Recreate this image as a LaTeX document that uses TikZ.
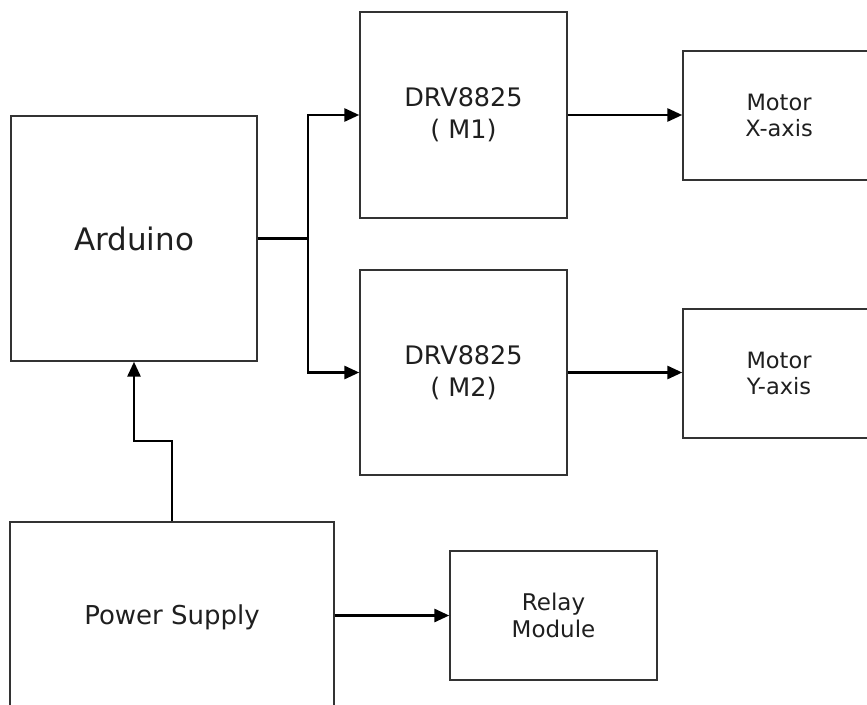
\documentclass[tikz,border=0pt]{standalone}
\usepackage{fontspec}
\setmainfont{DejaVu Sans}
\usetikzlibrary{arrows.meta}
\begin{document}
\begin{tikzpicture}[x=1pt,y=-1pt,
  blk/.style={draw=black!80, line width=1.4pt, rectangle, inner sep=0pt, align=center, text=black!88},
  conn/.style={draw=black, line width=2.8pt, -{Triangle[length=15pt,width=13pt]}},
  plain/.style={draw=black, line width=2.8pt}]
\useasboundingbox (0,0) rectangle (867,704);
\node[blk, minimum width=246pt, minimum height=245pt, font=\fontsize{31}{37}\selectfont] (ard) at (134,238.5) {Arduino};
\node[blk, minimum width=207pt, minimum height=206pt, font=\fontsize{25.5}{32}\selectfont] (drva) at (463.5,115) {DRV8825\\( M1)};
\node[blk, minimum width=207pt, minimum height=205pt, font=\fontsize{25.5}{32}\selectfont] (drvb) at (463.5,372.5) {DRV8825\\( M2)};
\node[blk, minimum width=192pt, minimum height=129pt, font=\fontsize{22.5}{26.5}\selectfont] (mx) at (779,115.5) {Motor\\X-axis};
\node[blk, minimum width=192pt, minimum height=129pt, font=\fontsize{22.5}{26.5}\selectfont] (my) at (779,373.5) {Motor\\Y-axis};
\node[blk, minimum width=324pt, minimum height=190pt, font=\fontsize{26}{31}\selectfont] (ps) at (172,617) {Power Supply};
\node[blk, minimum width=207pt, minimum height=129pt, font=\fontsize{23}{27}\selectfont] (relay) at (553.5,615.5) {Relay\\Module};
\coordinate (j) at (308,238.5);
\coordinate (b) at (134,441);
\draw[plain] (ard.east) -- (j);
\draw[conn] (j) |- (drva.west);
\draw[conn] (j) |- (drvb.west);
\draw[conn] (drva.east) -- (drva.east -| mx.west);
\draw[conn] (drvb.east) -- (drvb.east -| my.west);
\draw[conn] (ps.north) |- (b) -- (b |- ard.south);
\draw[conn] (ps.east |- relay.west) -- (relay.west);
\end{tikzpicture}
\end{document}
